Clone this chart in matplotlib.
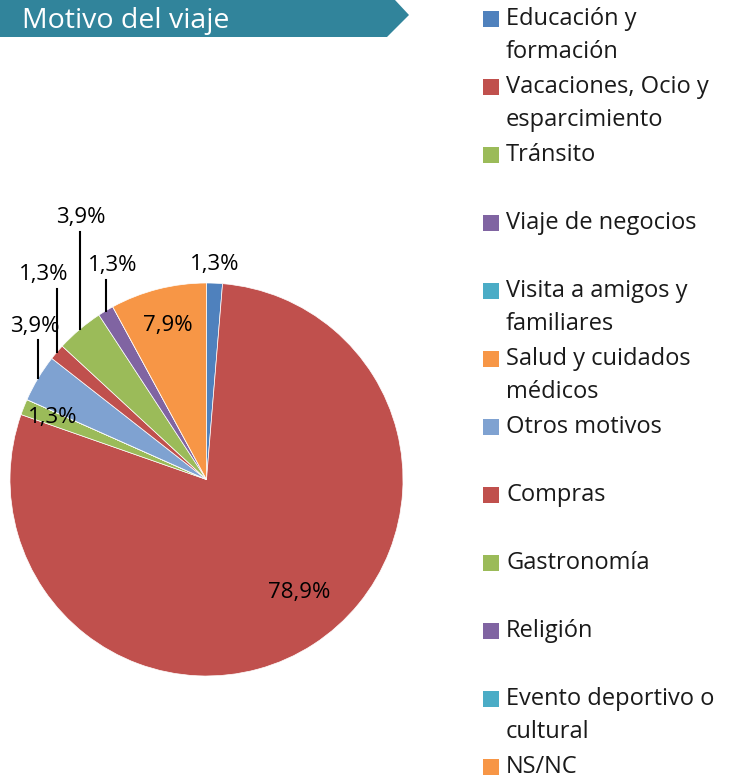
import textwrap
import numpy as np
import matplotlib.pyplot as plt
from matplotlib.patches import Polygon, Rectangle

plt.rcParams['font.family'] = ['Open Sans', 'DejaVu Sans']

# datos
categorias = ["Educación y formación", "Vacaciones, Ocio y esparcimiento", "Tránsito",
              "Viaje de negocios", "Visita a amigos y familiares", "Salud y cuidados médicos",
              "Otros motivos", "Compras", "Gastronomía", "Religión",
              "Evento deportivo o cultural", "NS/NC"]
valores = [1.3, 78.9, 1.3, 0.0, 0.0, 0.0, 3.9, 1.3, 3.9, 1.3, 0.0, 7.9]
colores = ["#4F81BD", "#C0504D", "#9BBB59", "#8064A2", "#4BACC6", "#F79646",
           "#7FA2D1", "#C0504D", "#9BBB59", "#8064A2", "#4BACC6", "#F79646"]

# posición de las etiquetas (en unidades del radio) y si llevan línea guía
pos_etiquetas = {0: (0.043, 1.092, False), 1: (0.471, -0.573, False),
                 2: (-0.781, 0.313, False), 6: (-0.873, 0.781, True),
                 7: (-0.827, 1.041, True), 8: (-0.639, 1.331, True),
                 9: (-0.476, 1.087, True), 11: (-0.196, 0.786, False)}

W, H = 740, 780
fig = plt.figure(figsize=(W / 100, H / 100), dpi=100)

# banda del título
banda = Polygon([(0, 1), (395 / W, 1), (409 / W, 1 - 15 / H), (387 / W, 1 - 37 / H), (0, 1 - 37 / H)],
                closed=True, transform=fig.transFigure, facecolor="#31849B", edgecolor="none")
fig.patches.append(banda)
fig.text(22 / W, 1 - 21 / H, "Motivo del viaje", color="white", fontsize=20.5, va="center", ha="left")

# tarta
cx, cy, r = 206.5, 479.5, 196.5
ax = fig.add_axes([(cx - r) / W, (H - cy - r) / H, 2 * r / W, 2 * r / H])
wedges, _ = ax.pie(valores, colors=colores, startangle=90, counterclock=False, radius=1,
                   wedgeprops=dict(edgecolor="white", linewidth=0.5))
ax.set_xlim(-1, 1)
ax.set_ylim(-1, 1)
ax.axis("off")

for i, (x, y, guia) in pos_etiquetas.items():
    txt = f"{valores[i]:.1f}%".replace(".", ",")
    ax.text(x, y, txt, ha="center", va="center", fontsize=16, color="black")
    if guia:
        w = wedges[i]
        ang = np.deg2rad((w.theta1 + w.theta2) / 2)
        px, py = np.cos(ang), np.sin(ang)
        ax.plot([px, px], [py, y - 0.072], color="black", linewidth=1.5, clip_on=False)

# leyenda
paso = (767 - 19) / 11
for i, nombre in enumerate(categorias):
    yc = 19 + i * paso
    fig.patches.append(Rectangle((483 / W, 1 - (yc + 8) / H), 16 / W, 16 / H,
                                 transform=fig.transFigure, facecolor=colores[i], edgecolor="none"))
    for j, linea in enumerate(textwrap.wrap(nombre, 18)):
        fig.text(506 / W, 1 - (yc + j * 33) / H, linea, fontsize=17, va="center", ha="left",
                 color="#1a1a1a")

fig.savefig("out.png", dpi=100)
